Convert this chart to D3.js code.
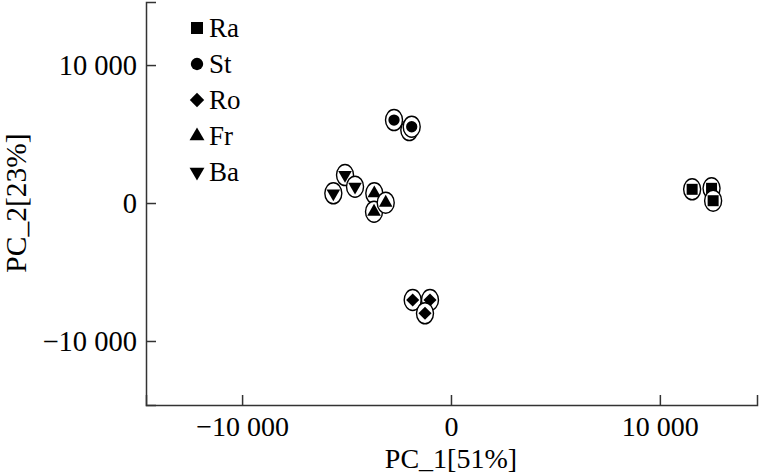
<!DOCTYPE html>
<html lang="en">
<head>
  <meta charset="utf-8" />
  <title>PCA</title>
  <script src="https://cdn.jsdelivr.net/npm/d3@7"></script>
  <style>
    body { margin: 0; background: #fff; }
    .axis path, .axis line { stroke: #333; stroke-width: 1.5; }
  </style>
</head>
<body>
  <script>
    // groups in legend order
    var groups = ["Ra", "St", "Ro", "Fr", "Ba"];
    // PC_1 / PC_2 scores, 3 replicates per group
    var pc1Ra = [11545, 12474, 12550];
    var pc2Ra = [993, 1065, 167];
    var pc1St = [-2727, -1995, -1880];
    var pc2St = [6014, 5290, 5529];
    var pc1Ro = [-1833, -1005, -1244];
    var pc2Ro = [-7029, -7029, -7993];
    var pc1Fr = [-3670, -3684, -3124];
    var pc2Fr = [703, -630, 22];
    var pc1Ba = [-5632, -5072, -4593];
    var pc2Ba = [703, 2029, 1181];
    var xTicks = [-10000, 0, 10000];
    var yTicks = [-10000, 0, 10000];
    var xLabel = "PC_1[51%]";
    var yLabel = "PC_2[23%]";

    var serif = "Liberation Serif, Times New Roman, serif";
    var width = 759, height = 475;
    var svg = d3.select("body").append("svg")
      .attr("width", width)
      .attr("height", height)
      .attr("font-family", serif);

    var x = d3.scaleLinear().domain([-14600, 14650]).range([146, 757]);
    var y = d3.scaleLinear().domain([-14640, 14570]).range([405, 2]);

    var fmt = function (v) {
      return d3.format(",")(v).replace(",", " ");
    };

    svg.append("g")
      .attr("class", "axis")
      .attr("transform", "translate(0,405)")
      .call(d3.axisBottom(x).tickValues(xTicks).tickSizeInner(-10).tickSizeOuter(-10).tickPadding(11).tickFormat(fmt))
      .attr("font-family", serif)
      .attr("font-size", 28)
      .call(function (g) { g.selectAll("text").attr("fill", "#000"); });

    svg.append("g")
      .attr("class", "axis")
      .attr("transform", "translate(146,0)")
      .call(d3.axisLeft(y).tickValues(yTicks).tickSizeInner(-10).tickSizeOuter(-10).tickPadding(9).tickFormat(fmt))
      .attr("font-family", serif)
      .attr("font-size", 28.5)
      .call(function (g) { g.selectAll("text").attr("fill", "#000"); });

    svg.append("text")
      .attr("x", x(0))
      .attr("y", 468)
      .attr("text-anchor", "middle")
      .attr("font-size", 28)
      .text(xLabel);

    svg.append("text")
      .attr("transform", "translate(26," + y(0) + ") rotate(-90)")
      .attr("text-anchor", "middle")
      .attr("font-size", 29.5)
      .text(yLabel);

    // marker shapes per group
    var shapes = {
      Ra: { type: d3.symbolSquare, size: 121, rot: 0 },
      St: { type: d3.symbolCircle, size: 100, rot: 0 },
      Ro: { type: d3.symbolDiamond2, size: 110, rot: 0 },
      Fr: { type: d3.symbolTriangle, size: 80, rot: 0 },
      Ba: { type: d3.symbolTriangle, size: 80, rot: 180 }
    };

    var points = [];
    var series = { Ra: [pc1Ra, pc2Ra], St: [pc1St, pc2St], Ro: [pc1Ro, pc2Ro], Fr: [pc1Fr, pc2Fr], Ba: [pc1Ba, pc2Ba] };
    groups.forEach(function (gname) {
      series[gname][0].forEach(function (v, i) {
        points.push({ group: gname, pc1: v, pc2: series[gname][1][i] });
      });
    });

    var pt = svg.append("g").selectAll("g")
      .data(points)
      .enter()
      .append("g")
      .attr("transform", function (d) { return "translate(" + x(d.pc1) + "," + y(d.pc2) + ")"; });

    pt.append("ellipse")
      .attr("rx", 8.5)
      .attr("ry", 10.5)
      .attr("fill", "#fff")
      .attr("stroke", "#000")
      .attr("stroke-width", 1.4);

    pt.append("path")
      .attr("d", function (d) { return d3.symbol().type(shapes[d.group].type).size(shapes[d.group].size)(); })
      .attr("transform", function (d) { return "rotate(" + shapes[d.group].rot + ")"; })
      .attr("fill", "#000");

    // legend
    var legY = d3.scalePoint().domain(groups).range([28, 172]);
    var leg = svg.append("g").selectAll("g")
      .data(groups)
      .enter()
      .append("g")
      .attr("transform", function (d) { return "translate(197," + legY(d) + ")"; });

    leg.append("path")
      .attr("d", function (d) { return d3.symbol().type(shapes[d].type).size(shapes[d].size * 1.2)(); })
      .attr("transform", function (d) { return "rotate(" + shapes[d].rot + ")"; })
      .attr("fill", "#000");

    leg.append("text")
      .attr("x", 12)
      .attr("dy", "0.35em")
      .attr("font-size", 27)
      .text(function (d) { return d; });
  </script>
</body>
</html>
